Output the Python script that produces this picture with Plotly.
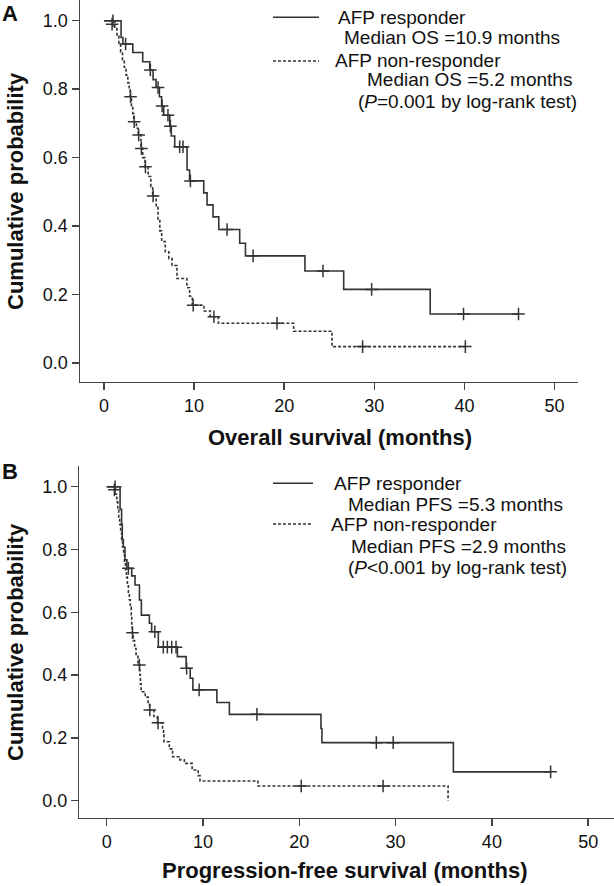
import plotly.graph_objects as go

W, H = 614, 886

# ---------------- Panel A: overall survival ----------------
os_resp_t = [0, 1.9, 2.1, 3.2, 4.3, 5.08, 5.45, 5.78, 6.15, 6.4, 6.63, 7.3, 7.47, 7.85,
             9.22, 9.5, 11.07, 11.44, 12.1, 12.74, 15.06, 15.7, 22.3, 26.6, 36.2, 46.0]
os_resp_s = [1.0, 0.951, 0.932, 0.907, 0.880, 0.856, 0.828, 0.805, 0.778, 0.751, 0.724, 0.692,
             0.663, 0.632, 0.564, 0.532, 0.497, 0.462, 0.427, 0.390, 0.350, 0.313, 0.269, 0.215,
             0.143, 0.143]
os_resp_cens_t = [1.0, 2.4, 5.15, 6.0, 6.45, 7.1, 7.37, 8.4, 8.77, 9.59, 13.66, 16.55, 24.3, 29.7, 39.9, 46.0]
os_resp_cens_s = [1.0, 0.932, 0.856, 0.805, 0.751, 0.724, 0.692, 0.632, 0.632, 0.532, 0.390, 0.313,
                  0.269, 0.215, 0.143, 0.143]

os_nonr_t = [0, 1.2, 1.45, 1.65, 1.85, 2.05, 2.25, 2.45, 2.65, 2.8, 2.9, 3.05, 3.2, 3.3, 3.6, 3.8,
             4.1, 4.3, 4.55, 4.9, 5.2, 5.4, 5.8, 6.0, 6.2, 6.4, 6.8, 7.2, 7.55, 8.1, 9.2, 9.5,
             9.8, 11.1, 11.8, 12.7, 21.05, 25.3, 40.1]
os_nonr_s = [1.0, 0.977, 0.955, 0.932, 0.909, 0.886, 0.864, 0.841, 0.818, 0.798, 0.778, 0.752,
             0.728, 0.705, 0.686, 0.666, 0.627, 0.600, 0.573, 0.545, 0.516, 0.488, 0.455, 0.420,
             0.386, 0.355, 0.325, 0.305, 0.285, 0.247, 0.220, 0.195, 0.169, 0.152, 0.135, 0.116,
             0.093, 0.048, 0.048]
os_nonr_cens_t = [0.9, 2.95, 3.35, 3.85, 4.15, 4.6, 5.45, 9.9, 12.2, 19.2, 28.7, 40.1]
os_nonr_cens_s = [0.99, 0.778, 0.705, 0.666, 0.627, 0.573, 0.488, 0.169, 0.135, 0.116, 0.048, 0.048]

# ---------------- Panel B: progression-free survival ----------------
pfs_resp_t = [0, 1.39, 1.55, 1.62, 1.73, 1.9, 2.1, 2.6, 2.94, 3.4, 3.6, 4.43, 4.67, 5.36, 7.34,
              8.25, 8.67, 8.95, 11.44, 12.74, 22.25, 22.35, 36.0, 46.1]
pfs_resp_s = [1.0, 0.928, 0.880, 0.832, 0.807, 0.767, 0.740, 0.716, 0.687, 0.639, 0.591, 0.565,
              0.538, 0.489, 0.459, 0.422, 0.390, 0.353, 0.313, 0.275, 0.230, 0.185, 0.092, 0.092]
pfs_resp_cens_t = [0.87, 2.25, 5.0, 5.88, 6.3, 6.75, 7.2, 8.3, 9.6, 15.6, 28.0, 29.75, 46.1]
pfs_resp_cens_s = [1.0, 0.740, 0.538, 0.489, 0.489, 0.489, 0.489, 0.422, 0.353, 0.275, 0.185, 0.185, 0.092]

pfs_nonr_t = [0, 0.9, 1.05, 1.15, 1.25, 1.35, 1.45, 1.55, 1.65, 1.75, 1.85, 1.95, 2.05, 2.15,
              2.25, 2.35, 2.45, 2.55, 2.6, 2.65, 2.75, 2.9, 3.05, 3.25, 3.45, 3.5, 3.58, 4.0,
              4.3, 4.45, 4.9, 5.25, 5.8, 5.9, 5.94, 6.5, 6.84, 7.6, 8.06, 8.87, 9.5, 9.69,
              15.7, 35.45, 35.45]
pfs_nonr_s = [1.0, 0.976, 0.952, 0.928, 0.904, 0.880, 0.856, 0.832, 0.808, 0.784, 0.760, 0.736,
              0.712, 0.688, 0.664, 0.640, 0.616, 0.592, 0.560, 0.535, 0.510, 0.485, 0.460, 0.432,
              0.400, 0.372, 0.347, 0.330, 0.310, 0.289, 0.268, 0.248, 0.228, 0.210, 0.188, 0.165,
              0.140, 0.130, 0.119, 0.098, 0.080, 0.063, 0.047, 0.047, 0.0]
pfs_nonr_cens_t = [0.8, 2.68, 3.39, 4.48, 5.33, 20.2, 28.7]
pfs_nonr_cens_s = [0.99, 0.535, 0.432, 0.289, 0.248, 0.047, 0.047]

x_ticks = [0, 10, 20, 30, 40, 50]
y_ticks = [0.0, 0.2, 0.4, 0.6, 0.8, 1.0]

LINE = "#333333"
FONT = "Liberation Sans, Arial, sans-serif"
DASH = "3px,2px"


def px(x, y):
    return x / W, 1 - y / H


fig = go.Figure()


def add_curves(t, s, ct, cs, dash, xa, ya):
    fig.add_trace(go.Scatter(x=t, y=s, mode="lines", line=dict(shape="hv", color=LINE, width=1.6, dash=dash),
                             xaxis=xa, yaxis=ya, showlegend=False, hoverinfo="skip"))
    fig.add_trace(go.Scatter(x=ct, y=cs, mode="markers",
                             marker=dict(symbol="cross-thin", size=9, line=dict(color=LINE, width=1.5)),
                             xaxis=xa, yaxis=ya, showlegend=False, hoverinfo="skip"))


add_curves(os_resp_t, os_resp_s, os_resp_cens_t, os_resp_cens_s, "solid", "x", "y")
add_curves(os_nonr_t, os_nonr_s, os_nonr_cens_t, os_nonr_cens_s, DASH, "x", "y")
add_curves(pfs_resp_t, pfs_resp_s, pfs_resp_cens_t, pfs_resp_cens_s, "solid", "x2", "y2")
add_curves(pfs_nonr_t, pfs_nonr_s, pfs_nonr_cens_t, pfs_nonr_cens_s, DASH, "x2", "y2")

axis_common = dict(showline=True, linecolor="#444444", linewidth=1.5, ticks="outside", ticklen=7,
                   tickwidth=1.5, tickcolor="#444444", showgrid=False, zeroline=False,
                   tickfont=dict(family=FONT, size=18, color="#111111"), automargin=False)

fig.update_layout(
    width=W, height=H, margin=dict(l=0, r=0, t=0, b=0),
    paper_bgcolor="white", plot_bgcolor="white",
    xaxis=dict(domain=[80 / W, 578 / W], range=[-2.66, 52.6], tickvals=x_ticks, anchor="y", **axis_common),
    yaxis=dict(domain=[1 - 381.7 / H, 1.0], range=[-0.0546, 1.0605], tickvals=y_ticks,
               tickformat=".1f", anchor="x", **axis_common),
    xaxis2=dict(domain=[79.3 / W, 1.0], range=[-2.845, 52.68], tickvals=x_ticks, anchor="y2", **axis_common),
    yaxis2=dict(domain=[1 - 817.7 / H, 1 - 466 / H], range=[-0.0541, 1.066], tickvals=y_ticks,
                tickformat=".1f", anchor="x2", **axis_common),
)

annotations = []
shapes = []


def text(x, y, s, size=19, bold=False, angle=0, xanchor="left", yanchor="middle"):
    xp, yp = px(x, y)
    annotations.append(dict(x=xp, y=yp, xref="paper", yref="paper", text=("<b>%s</b>" % s) if bold else s,
                            showarrow=False, xanchor=xanchor, yanchor=yanchor, textangle=angle,
                            borderpad=0, font=dict(family=FONT, size=size, color="#111111")))


def sample(x0, x1, y, dash):
    a0, b0 = px(x0, y)
    a1, _ = px(x1, y)
    shapes.append(dict(type="line", xref="paper", yref="paper", x0=a0, x1=a1, y0=b0, y1=b0,
                       line=dict(color=LINE, width=1.5, dash=dash)))


# Panel labels
text(1, 13, "A", size=22, bold=True)
text(1, 471, "B", size=22, bold=True)

# Axis titles
text(340, 437, "Overall survival (months)", size=22, bold=True, xanchor="center")
text(345, 870, "Progression-free survival (months)", size=22, bold=True, xanchor="center")
text(15, 191, "Cumulative probability", size=22, bold=True, angle=-90, xanchor="center")
text(15, 642, "Cumulative probability", size=22, bold=True, angle=-90, xanchor="center")

# Legend A
sample(273, 319, 17.3, "solid")
text(337, 17.3, "AFP responder")
text(343, 37.7, "Median OS =10.9 months")
sample(273, 319, 61, DASH)
text(334, 61, "AFP non-responder")
text(366, 80, "Median OS =5.2 months")
text(357, 101.7, "(<i>P</i>=0.001 by log-rank test)")

# Legend B
sample(273, 313, 483.3, "solid")
text(333, 483.3, "AFP responder")
text(347, 504.3, "Median PFS =5.3 months")
sample(273, 313, 524, DASH)
text(330, 524, "AFP non-responder")
text(350, 546.7, "Median PFS =2.9 months")
text(347, 567.5, "(<i>P</i>&lt;0.001 by log-rank test)")

fig.update_layout(annotations=annotations, shapes=shapes)
fig.write_html("out.html", config={"displayModeBar": False, "staticPlot": True},
               post_script="document.body.style.margin='0px';document.body.style.overflow='hidden';")
